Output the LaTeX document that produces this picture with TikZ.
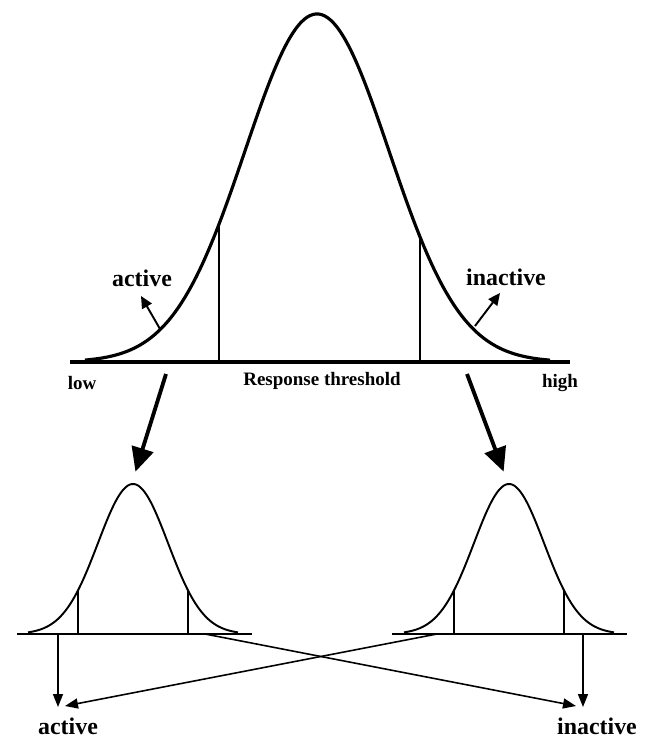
\documentclass[tikz,border=0pt]{standalone}
\usepackage{fontspec}
\setmainfont{Liberation Serif}
\usetikzlibrary{arrows.meta}

\begin{document}
\begin{tikzpicture}[
    x=0.02cm, y=-0.02cm,
    bigbell/.style={line width=1.8pt, smooth, samples=160},
    subbell/.style={line width=1.1pt, smooth, samples=100},
    axisline/.style={line width=1.8pt},
    subaxis/.style={line width=1.2pt},
    cut/.style={line width=1.1pt},
    subcut/.style={line width=0.8pt},
    bigarrow/.style={-{Triangle[length=0.48cm, width=0.44cm]}, line width=2.2pt, shorten >=-1pt},
    tailarrow/.style={-{Triangle[length=0.24cm, width=0.22cm]}, line width=1.1pt},
    sortarrow/.style={-{Triangle[length=0.26cm, width=0.2cm]}, line width=0.9pt},
    lbl/.style={font=\fontsize{13.6}{16}\selectfont\bfseries, inner sep=0pt},
    axlbl/.style={font=\fontsize{10.8}{13}\selectfont\bfseries, inner sep=0pt}
  ]
    \useasboundingbox (0,0) rectangle (646,737);

    % whole population
    \draw[axisline] (70,362) -- (570,362);
    \draw[bigbell] plot[domain=85:550] (\x, {362-348*exp(-0.5*((\x-317)/72)^2)});
    \draw[cut] (219,362) -- (219, {362-348*exp(-0.5*((219-317)/72)^2)});
    \draw[cut] (420,362) -- (420, {362-348*exp(-0.5*((420-317)/72)^2)});

    \node[lbl] (actTop) at (142,278) {active};
    \node[lbl] (inactTop) at (506,277) {inactive};
    \node[axlbl] (low) at (82,383) {low};
    \node[axlbl] (thresh) at (322,381) {Response threshold};
    \node[axlbl] (high) at (560,383) {high};

    \coordinate (tailL) at (160,329);
    \coordinate (tailR) at (475,326);
    \draw[tailarrow] (tailL) -- (141,296);
    \draw[tailarrow] (tailR) -- (500,293);

    % split into two groups
    \coordinate (splitL) at (166,374);
    \coordinate (splitR) at (467,374);
    \coordinate (groupL) at (136,470);
    \coordinate (groupR) at (503,470);
    \draw[bigarrow] (splitL) -- (groupL);
    \draw[bigarrow] (splitR) -- (groupR);

    \foreach \c/\a/\b in {133/17/252, 509/392/627} {
      \draw[subaxis] (\a,634) -- (\b,634);
      \draw[subbell] plot[domain=\c-105:\c+105] (\x, {634-150*exp(-0.5*((\x-\c)/35)^2)});
      \draw[subcut] (\c-55,634) -- (\c-55, {634-150*exp(-0.5*(55/35)^2)});
      \draw[subcut] (\c+55,634) -- (\c+55, {634-150*exp(-0.5*(55/35)^2)});
    }

    \node[lbl] (actBot) at (68,726) {active};
    \node[lbl] (inactBot) at (597,726) {inactive};

    \coordinate (outLL) at (58,634);
    \coordinate (outLR) at (205,634);
    \coordinate (outRL) at (437,634);
    \coordinate (outRR) at (583,634);
    \coordinate (toAct) at (58,707);
    \coordinate (toInact) at (583,707);
    \draw[sortarrow] (outLL) -- (toAct);
    \draw[sortarrow] (outRR) -- (toInact);
    \draw[sortarrow] (outLR) -- (576,706);
    \draw[sortarrow] (outRL) -- (65,706);
  \end{tikzpicture}
\end{document}
